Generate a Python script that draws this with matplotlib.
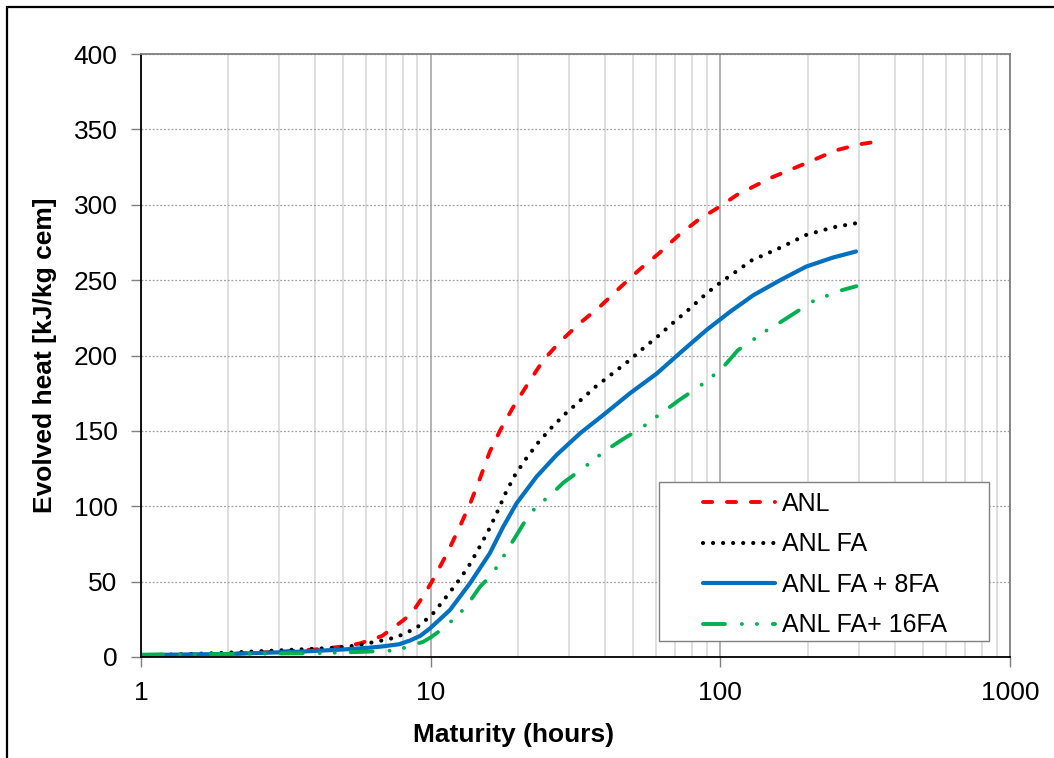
import matplotlib
matplotlib.use("Agg")
import matplotlib.pyplot as plt
from matplotlib.patches import Rectangle
from matplotlib.ticker import FixedLocator, NullFormatter

plt.rcParams['font.family'] = ['Liberation Sans', 'DejaVu Sans']

# maturity (hours) and evolved heat (kJ/kg cem) per mix
anl_t = [1.0, 1.5, 2.0, 3.0, 4.0, 5.0, 5.7, 6.8, 8.0, 8.6, 9.4, 10.1, 11.4,
         12.6, 13.7, 14.8, 16.0, 17.4, 19.3, 21.7, 24.5, 28.0, 32.7, 38.4, 45.0,
         52.6, 61.6, 72.0, 84.0, 100.0, 114.0, 150.0, 200.0, 250.0, 300.0, 350.0]
anl_q = [1.0, 1.5, 2.0, 3.5, 5.0, 7.0, 9.0, 14.0, 24.0, 29.0, 40.0, 50.0, 68.8,
         86.4, 102.0, 118.5, 136.2, 150.6, 166.0, 181.5, 197.0, 209.2, 221.4, 232.4, 245.0,
         257.0, 268.0, 280.0, 290.0, 299.0, 306.5, 318.0, 328.0, 336.0, 340.0, 342.0]

fa_t = [1.0, 1.8, 3.1, 4.6, 5.5, 6.8, 7.6, 8.2, 8.9, 9.4, 10.1, 11.1, 12.3,
        13.5, 14.6, 15.8, 16.9, 18.06, 19.5, 21.3, 23.5, 26.2, 29.3, 33.0, 37.1,
        42.2, 47.9, 54.2, 61.1, 68.8, 77.5, 90.0, 101.0, 114.0, 128.0, 161.0,
        198.0, 245.0, 299.0]
fa_q = [1.0, 2.5, 4.5, 6.0, 7.5, 11.0, 13.0, 16.0, 19.0, 23.0, 27.9, 37.8, 48.9,
        59.9, 71.4, 83.6, 95.3, 108.0, 120.3, 131.3, 142.2, 152.4, 161.7, 170.5, 179.3,
        187.7, 195.9, 204.8, 213.0, 221.8, 230.2, 241.5, 249.0, 256.0, 263.0, 271.5,
        280.0, 285.0, 288.0]

fa8_t = [1.0, 2.0, 3.5, 5.0, 6.0, 6.8, 7.8, 8.5, 9.2, 9.95, 11.66, 13.67, 16.0,
         17.8, 19.8, 23.2, 27.2, 32.8, 39.4, 48.8, 60.3, 74.5, 89.7, 108.0, 130.0,
         161.0, 198.0, 245.0, 294.0]
fa8_q = [1.3, 2.0, 3.5, 5.0, 6.0, 7.0, 8.5, 11.0, 14.0, 19.0, 31.2, 48.9, 68.8,
         86.4, 102.0, 119.6, 134.0, 148.4, 160.5, 175.0, 188.0, 203.6, 217.0, 229.0, 240.0,
         250.0, 259.0, 265.0, 269.0]

fa16_t = [1.0, 2.0, 4.0, 6.0, 7.8, 8.2, 9.4, 10.0, 11.05, 12.1, 13.2, 14.8, 16.2,
          17.4, 18.5, 19.8, 22.0, 24.2, 26.5, 28.7, 34.1, 37.7, 41.6, 45.7, 54.2,
          59.5, 65.3, 71.6, 85.1, 92.9, 101.4, 115.0, 148.0, 161.0, 209.0, 259.0, 295.0]
fa16_q = [1.5, 2.0, 2.5, 3.5, 4.5, 6.6, 10.0, 13.0, 19.0, 25.7, 33.0, 46.6, 54.4,
          63.2, 71.8, 80.9, 95.3, 102.6, 109.2, 115.6, 126.2, 132.9, 138.9, 144.0, 152.8,
          158.7, 164.3, 170.0, 179.8, 185.5, 191.5, 203.5, 218.0, 222.0, 236.0, 243.0, 246.0]

fig = plt.figure(figsize=(10.54, 7.58), dpi=100)
ax = fig.add_axes([141 / 1054, 101 / 758, 869 / 1054, 603 / 758])

ax.plot(anl_t, anl_q, color='#FF0000', lw=2.8, dashes=(2.35, 3.8),
        dash_capstyle='round', label='ANL')
ax.plot(fa_t, fa_q, color='black', lw=3.0, dashes=(0.01, 2.4),
        dash_capstyle='round', label='ANL FA')
ax.plot(fa8_t, fa8_q, color='#0070C0', lw=3.0, solid_capstyle='round',
        label='ANL FA + 8FA')
ax.plot(fa16_t, fa16_q, color='#00B050', lw=2.8,
        dashes=(5.65, 4.35, 0.01, 3.85, 0.01, 4.1), dash_capstyle='round',
        label='ANL FA+ 16FA')

ax.set_xscale('log')
ax.set_xlim(1, 1000)
ax.set_ylim(0, 400)
ax.set_yticks(range(0, 401, 50))
ax.xaxis.set_major_locator(FixedLocator([1, 10, 100, 1000]))
ax.xaxis.set_minor_locator(FixedLocator([m * 10 ** e for e in range(3) for m in range(2, 10)]))
ax.xaxis.set_minor_formatter(NullFormatter())
ax.set_xticklabels(['1', '10', '100', '1000'])

ax.grid(axis='y', which='major', color='#A0A0A0', lw=0.9, linestyle=(0, (1.5, 1.5)))
ax.grid(axis='x', which='minor', color='#D9D9D9', lw=1.2)
ax.grid(axis='x', which='major', color='#A6A6A6', lw=1.2)
ax.set_axisbelow(True)

ax.tick_params(axis='both', which='major', direction='out', length=7, width=1,
               color='#808080', labelsize=19)
ax.tick_params(axis='y', pad=10)
ax.tick_params(axis='x', pad=10)
ax.tick_params(axis='x', which='minor', length=0)

for side in ['left', 'bottom']:
    ax.spines[side].set_color('black')
    ax.spines[side].set_linewidth(1.3)
for side in ['top', 'right']:
    ax.spines[side].set_color('#808080')
    ax.spines[side].set_linewidth(1.3)

ax.set_xlabel('Maturity (hours)', fontsize=19, fontweight='bold')
ax.xaxis.set_label_coords(0.429, -0.110)
ax.set_ylabel('Evolved heat [kJ/kg cem]', fontsize=19, fontweight='bold', labelpad=12)

# legend box is drawn separately so the entries can sit with a wide left margin
ax.add_patch(Rectangle((0.596, 0.027), 0.380, 0.263, transform=ax.transAxes,
                       facecolor='white', edgecolor='#808080', lw=1.0, zorder=4))
leg = ax.legend(loc='upper left', bbox_to_anchor=(0.6467, 0.274), fontsize=18,
                handlelength=2.9, labelspacing=0.66, borderpad=0,
                handletextpad=0.25, borderaxespad=0, frameon=False)
leg.set_zorder(5)

# outer chart border
fig.patches.append(Rectangle((7 / 1054, -0.1), 1.2, 1.1 - 7 / 758, transform=fig.transFigure,
                             fill=False, edgecolor='black', lw=1.6, clip_on=False))

fig.savefig('out.png', dpi=100)
